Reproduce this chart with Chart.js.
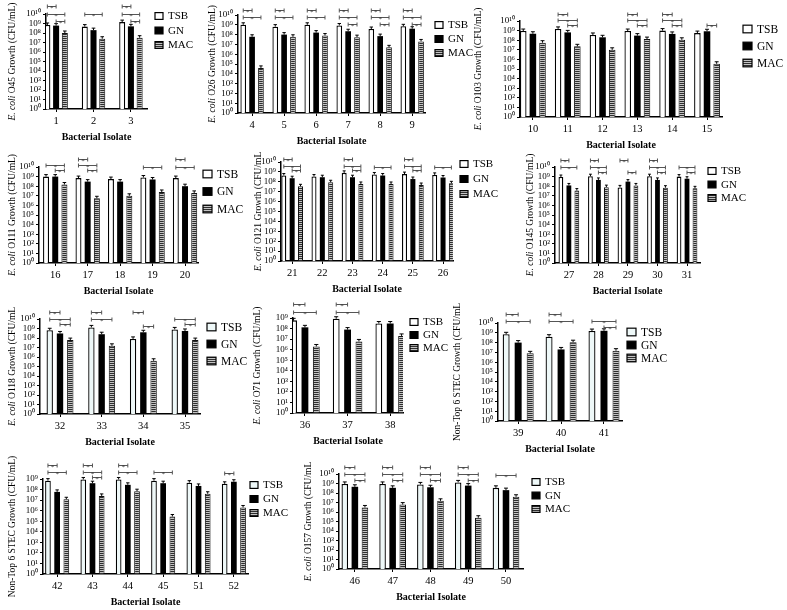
<!DOCTYPE html>
<html>
<head>
<meta charset="utf-8">
<script src="https://cdn.jsdelivr.net/npm/chart.js@4.4.0/dist/chart.umd.min.js"></script>
<style>
  body { margin: 0; background: #fff; }
  #page { position: relative; width: 787px; height: 610px; overflow: hidden; background: #fff; }
  #page canvas { position: absolute; }
</style>
</head>
<body>
<div id="page"></div>
<script>
// ---- data (CFU/mL), series order: TSB, GN, MAC ----
// significance brackets: [isolate index, from series, to series, log10 height]
const seriesNames = ['TSB', 'GN', 'MAC'];

const o45Isolates = ['1', '2', '3'];
const o45TSB = [7e8, 4.7e8, 1.4e9];
const o45GN = [6e8, 2e8, 5e8];
const o45MAC = [1e8, 2.5e7, 3.2e7];
const o45Sig = [[0, 0, 1, 10.85], [0, 0, 2, 10.0], [0, 1, 2, 9.3], [1, 0, 2, 10.0], [2, 0, 1, 10.85], [2, 0, 2, 10.0], [2, 1, 2, 9.3]];

const o26Isolates = ['4', '5', '6', '7', '8', '9'];
const o26TSB = [1e9, 6.5e8, 1e9, 8.5e8, 3.7e8, 7e8];
const o26GN = [6e7, 1e8, 1.6e8, 2.2e8, 7e7, 4e8];
const o26MAC = [4e4, 6e7, 8e7, 5.5e7, 5e6, 2e7];
const o26Sig = [[0, 0, 1, 10.5], [0, 0, 2, 9.83], [1, 0, 1, 10.5], [1, 0, 2, 9.83], [2, 0, 1, 10.5], [2, 0, 2, 9.83],
  [3, 0, 1, 10.5], [3, 0, 2, 9.83], [3, 1, 2, 9.1], [4, 0, 1, 10.5], [4, 0, 2, 9.83], [4, 1, 2, 9.1],
  [5, 0, 1, 10.5], [5, 0, 2, 9.83], [5, 1, 2, 9.1]];

const o103Isolates = ['10', '11', '12', '13', '14', '15'];
const o103TSB = [9e8, 1.5e9, 3.5e8, 9e8, 1e9, 5.5e8];
const o103GN = [4.7e8, 6.5e8, 2e8, 3e8, 4.5e8, 8.5e8];
const o103MAC = [5.5e7, 2.3e7, 1e7, 1.3e8, 1.1e8, 3.5e5];
const o103Sig = [[1, 0, 1, 10.73], [1, 0, 2, 10.1], [1, 1, 2, 9.6], [3, 0, 1, 10.73], [3, 0, 2, 10.1], [3, 1, 2, 9.6],
  [4, 0, 1, 10.73], [4, 0, 2, 10.1], [4, 1, 2, 9.6], [5, 1, 2, 9.6]];

const o111Isolates = ['16', '17', '18', '19', '20'];
const o111TSB = [1e9, 7e8, 5.5e8, 8e8, 7e8];
const o111GN = [1e9, 3e8, 3e8, 5e8, 1e8];
const o111MAC = [1.5e8, 5.5e6, 1e7, 2.5e7, 2e7];
const o111Sig = [[0, 0, 2, 10.2], [0, 1, 2, 9.7], [1, 0, 1, 10.83], [1, 0, 2, 10.2], [1, 1, 2, 9.7],
  [3, 0, 2, 10.0], [4, 0, 1, 10.83], [4, 0, 2, 10.0]];

const o121Isolates = ['21', '22', '23', '24', '25', '26'];
const o121TSB = [4.3e8, 3.4e8, 8e8, 5.5e8, 6e8, 5e8];
const o121GN = [2.3e8, 2.9e8, 2.9e8, 4.3e8, 1.9e8, 2.7e8];
const o121MAC = [3.5e7, 9e7, 6e7, 6e7, 4.7e7, 7e7];
const o121Sig = [[0, 0, 1, 10.35], [0, 0, 2, 9.6], [0, 1, 2, 9.15], [2, 0, 1, 10.35], [2, 0, 2, 9.6], [2, 1, 2, 9.15],
  [3, 0, 2, 9.5], [4, 0, 1, 10.35], [4, 0, 2, 9.6], [4, 1, 2, 9.15], [5, 0, 2, 9.5]];

const o145Isolates = ['27', '28', '29', '30', '31'];
const o145TSB = [9e8, 1.1e9, 7.5e7, 1.1e9, 1e9];
const o145GN = [1.2e8, 4.5e8, 3e8, 4.5e8, 6e8];
const o145MAC = [3.5e7, 8e7, 1.2e8, 7e7, 6e7];
const o145Sig = [[0, 0, 1, 10.75], [0, 0, 2, 10.03], [1, 0, 1, 10.75], [1, 0, 2, 10.03], [1, 1, 2, 9.5],
  [2, 0, 1, 10.7], [2, 1, 2, 9.5], [3, 0, 1, 10.75], [3, 0, 2, 10.03], [3, 1, 2, 9.5], [4, 0, 2, 10.03], [4, 1, 2, 9.5]];

const o118Isolates = ['32', '33', '34', '35'];
const o118TSB = [6.5e8, 1.3e9, 8e7, 8e8];
const o118GN = [3e8, 2.5e8, 4e8, 5.5e8];
const o118MAC = [6e7, 1.5e7, 4e5, 6e7];
const o118Sig = [[0, 0, 1, 10.7], [0, 0, 2, 10.0], [0, 1, 2, 9.45], [1, 0, 1, 10.7], [1, 0, 2, 10.0],
  [2, 0, 1, 10.7], [2, 1, 2, 9.3], [3, 0, 2, 10.0], [3, 1, 2, 9.45]];

const o71Isolates = ['36', '37', '38'];
const o71TSB = [6e8, 8.5e8, 3e8];
const o71GN = [1.3e8, 8e7, 3e8];
const o71MAC = [2e6, 6e6, 2e7];
const o71Sig = [[0, 0, 1, 10.3], [0, 0, 2, 9.53], [1, 0, 1, 10.3], [1, 0, 2, 9.53]];

const nonTopAIsolates = ['39', '40', '41'];
const nonTopATSB = [7e8, 4e8, 1.5e9];
const nonTopAGN = [1e8, 2e7, 1.6e9];
const nonTopAMAC = [8e6, 1.1e8, 1.5e7];
const nonTopASig = [[0, 0, 1, 10.92], [0, 0, 2, 10.2], [1, 0, 1, 10.92], [1, 0, 2, 10.2], [2, 0, 2, 10.2], [2, 1, 2, 9.62]];

const nonTopBIsolates = ['42', '43', '44', '45', '51', '52'];
const nonTopBTSB = [7e8, 9e8, 9e8, 7e8, 4.5e8, 3.5e8];
const nonTopBGN = [6e7, 4e8, 2.8e8, 4e8, 2.2e8, 5.5e8];
const nonTopBMAC = [1.2e7, 2.5e7, 7e7, 2.8e5, 4e7, 2e6];
const nonTopBSig = [[0, 0, 1, 10.32], [0, 0, 2, 9.63], [1, 0, 1, 10.32], [1, 0, 2, 9.63], [1, 1, 2, 9.19],
  [2, 0, 1, 10.32], [2, 0, 2, 9.63], [3, 0, 2, 9.63], [5, 0, 1, 9.53]];

const o157Isolates = ['46', '47', '48', '49', '50'];
const o157TSB = [9e8, 9e8, 8e8, 1.3e9, 3.5e8];
const o157GN = [4.5e8, 3.5e8, 4e8, 6e8, 2e8];
const o157MAC = [3e6, 6e6, 1.5e7, 2.5e5, 4e7];
const o157Sig = [[0, 0, 1, 10.7], [0, 0, 2, 10.0], [0, 1, 2, 9.33], [1, 0, 1, 10.7], [1, 0, 2, 10.0], [1, 1, 2, 9.33],
  [2, 0, 1, 10.7], [2, 0, 2, 10.0], [2, 1, 2, 9.33], [3, 0, 1, 10.7], [3, 0, 2, 10.0], [3, 1, 2, 9.33], [4, 0, 2, 9.9]];

// ---- panel layout (page pixels) ----
// area: [left, top, right, bottom] of the plot; legend: [boxX, firstRowY, rowStep, boxSize, fontSize]
const panels = [
  { isolates: o45Isolates, tsb: o45TSB, gn: o45GN, mac: o45MAC, sig: o45Sig, yMax: 1e10,
    area: [46, 14, 147, 109], pad: [0.27, 0.43], cat: 0.7, bar: 0.69, legend: [155, 16, 14.5, 8, 11],
    titleX: 12, title: ' O45 Growth (CFU/mL)', italic: 'E. coli', tsbFill: '#ffffff' },
  { isolates: o26Isolates, tsb: o26TSB, gn: o26GN, mac: o26MAC, sig: o26Sig, yMax: 1e10,
    area: [238, 15, 425, 113], pad: [0.44, 0.4], cat: 0.83, bar: 0.64, legend: [435, 25, 14, 8, 11],
    titleX: 212, title: ' O26 Growth (CFU/mL)', italic: 'E. coli', tsbFill: '#ffffff' },
  { isolates: o103Isolates, tsb: o103TSB, gn: o103GN, mac: o103MAC, sig: o103Sig, yMax: 1e10,
    area: [520, 21, 722, 117], pad: [0.37, 0.43], cat: 0.83, bar: 0.68, legend: [743, 29, 17, 9, 11.5],
    titleX: 478, title: ' O103 Growth (CFU/mL)', italic: 'E. coli', tsbFill: '#ffffff' },
  { isolates: o111Isolates, tsb: o111TSB, gn: o111GN, mac: o111MAC, sig: o111Sig, yMax: 1e10,
    area: [39, 167, 198, 263], pad: [0.5, 0.4], cat: 0.85, bar: 0.65, legend: [203, 174, 17.5, 9, 11.5],
    titleX: 12, title: ' O111 Growth (CFU/mL)', italic: 'E. coli', tsbFill: '#ffffff' },
  { isolates: o121Isolates, tsb: o121TSB, gn: o121GN, mac: o121MAC, sig: o121Sig, yMax: 1e10,
    area: [281, 162, 453, 261], pad: [0.37, 0.33], cat: 0.83, bar: 0.6, legend: [460, 164, 15, 8, 11],
    titleX: 258, title: ' O121 Growth (CFU/mL', italic: 'E. coli', tsbFill: '#ffffff' },
  { isolates: o145Isolates, tsb: o145TSB, gn: o145GN, mac: o145MAC, sig: o145Sig, yMax: 1e10,
    area: [555, 167, 700, 263], pad: [0.47, 0.44], cat: 0.81, bar: 0.6, legend: [708, 171, 13.5, 8, 11],
    titleX: 530, title: ' O145 Growth (CFU/mL)', italic: 'E. coli', tsbFill: '#ffffff' },
  { isolates: o118Isolates, tsb: o118TSB, gn: o118GN, mac: o118MAC, sig: o118Sig, yMax: 1e10,
    area: [40, 319, 200, 414], pad: [0.48, 0.36], cat: 0.74, bar: 0.62, legend: [207, 327, 17, 9, 11.5],
    titleX: 12, title: ' O118 Growth (CFU/mL', italic: 'E. coli', tsbFill: '#eef8f8' },
  { isolates: o71Isolates, tsb: o71TSB, gn: o71GN, mac: o71MAC, sig: o71Sig, yMax: 1e9,
    area: [293, 318, 403, 413], pad: [0.28, 0.3], cat: 0.8, bar: 0.6, legend: [410, 322, 13, 8, 11],
    titleX: 257, title: ' O71 Growth (CFU/mL)', italic: 'E. coli', tsbFill: '#ffffff' },
  { isolates: nonTopAIsolates, tsb: nonTopATSB, gn: nonTopAGN, mac: nonTopAMAC, sig: nonTopASig, yMax: 1e10,
    area: [498, 323, 622, 421], pad: [0.47, 0.42], cat: 0.84, bar: 0.58, legend: [627, 332, 13, 9, 11.5],
    titleX: 457, title: 'Non-Top 6 STEC Growth (CFU/mL', italic: '', tsbFill: '#eef8f8' },
  { isolates: nonTopBIsolates, tsb: nonTopBTSB, gn: nonTopBGN, mac: nonTopBMAC, sig: nonTopBSig, yMax: 1e9,
    area: [43, 479, 248, 574], pad: [0.4, 0.4], cat: 0.78, bar: 0.62, legend: [250, 485, 14, 8, 11],
    titleX: 12, title: 'Non-Top 6 STEC Growth (CFU/mL)', italic: '', tsbFill: '#eef8f8' },
  { isolates: o157Isolates, tsb: o157TSB, gn: o157GN, mac: o157MAC, sig: o157Sig, yMax: 1e10,
    area: [339, 474, 523, 569], pad: [0.42, 0.45], cat: 0.8, bar: 0.65, legend: [532, 482, 13.5, 8, 11],
    titleX: 308, title: ' O157 Growth (CFU/mL', italic: 'E. coli', tsbFill: '#eef8f8' }
];

const FONT = "'Liberation Serif', 'Times New Roman', serif";
const LEFT_SPACE = 50, TOP_SPACE = 30, RIGHT_SPACE = 90, BOTTOM_SPACE = 40;
const SUP = { '0': '⁰', '1': '¹', '2': '²', '3': '³', '4': '⁴', '5': '⁵', '6': '⁶', '7': '⁷', '8': '⁸', '9': '⁹' };

function decadeLabel(value) {
  const e = Math.round(Math.log10(value));
  return '10' + String(e).split('').map(c => SUP[c]).join('');
}

// horizontal stripes used for the MAC bars
function makeStripes(ctx) {
  const c = document.createElement('canvas');
  c.width = 4; c.height = 2;
  const p = c.getContext('2d');
  p.fillStyle = '#c4c4c4'; p.fillRect(0, 0, 4, 2);
  p.fillStyle = '#2e2e2e'; p.fillRect(0, 0, 4, 1);
  return ctx.createPattern(c, 'repeat');
}

// error caps, brackets, legend and axis titles
function makeDecor(panel, x0, y0, fills) {
  return {
    id: 'panelDecor',
    afterDatasetsDraw(chart) {
      const ctx = chart.ctx;
      const yScale = chart.scales.y;
      ctx.save();
      ctx.strokeStyle = '#000';
      ctx.lineWidth = 1;
      chart.data.datasets.forEach((ds, di) => {
        chart.getDatasetMeta(di).data.forEach(bar => {
          const half = bar.width * 0.3;
          ctx.beginPath();
          ctx.moveTo(bar.x, bar.y);
          ctx.lineTo(bar.x, bar.y - 2);
          ctx.moveTo(bar.x - half, bar.y - 2);
          ctx.lineTo(bar.x + half, bar.y - 2);
          ctx.stroke();
        });
      });

      ctx.strokeStyle = '#555';
      ctx.fillStyle = '#333';
      ctx.font = '7px ' + FONT;
      ctx.textAlign = 'center';
      ctx.textBaseline = 'alphabetic';
      panel.sig.forEach(([i, a, b, lvl]) => {
        const x1 = chart.getDatasetMeta(a).data[i].x;
        const x2 = chart.getDatasetMeta(b).data[i].x;
        const y = Math.round(yScale.getPixelForValue(Math.pow(10, lvl))) + 0.5;
        ctx.beginPath();
        ctx.moveTo(x1, y); ctx.lineTo(x2, y);
        ctx.moveTo(x1, y - 2); ctx.lineTo(x1, y + 2);
        ctx.moveTo(x2, y - 2); ctx.lineTo(x2, y + 2);
        ctx.stroke();
        ctx.fillText('*', (x1 + x2) / 2, y + 3);
      });
      ctx.restore();
    },
    afterDraw(chart) {
      const ctx = chart.ctx;
      const area = chart.chartArea;
      const [bx, by, step, size, fs] = panel.legend;
      ctx.save();
      // legend
      ctx.font = fs + 'px ' + FONT;
      ctx.textBaseline = 'middle';
      ctx.textAlign = 'left';
      seriesNames.forEach((name, k) => {
        const cy = by + k * step - y0;
        const h = size * 0.85;
        ctx.fillStyle = fills[k];
        ctx.fillRect(bx - x0, cy - h / 2, size, h);
        ctx.strokeStyle = '#000';
        ctx.lineWidth = 1.2;
        ctx.strokeRect(bx - x0, cy - h / 2, size, h);
        ctx.fillStyle = '#000';
        ctx.fillText(name, bx - x0 + size + 5, cy + 0.5);
      });

      // y-axis title, italic genus part followed by plain text
      ctx.translate(panel.titleX - x0, (area.top + area.bottom) / 2);
      ctx.rotate(-Math.PI / 2);
      const italicFont = 'italic 9.5px ' + FONT;
      const plainFont = '9.5px ' + FONT;
      ctx.font = italicFont;
      const w1 = panel.italic ? ctx.measureText(panel.italic).width : 0;
      ctx.font = plainFont;
      const w2 = ctx.measureText(panel.title).width;
      let sx = -(w1 + w2) / 2;
      ctx.textAlign = 'left';
      if (panel.italic) {
        ctx.font = italicFont;
        ctx.fillText(panel.italic, sx, 0);
        sx += w1;
      }
      ctx.font = plainFont;
      ctx.fillText(panel.title, sx, 0);
      ctx.restore();

      // x-axis title
      ctx.save();
      ctx.font = 'bold 10px ' + FONT;
      ctx.fillStyle = '#000';
      ctx.textAlign = 'center';
      ctx.textBaseline = 'middle';
      ctx.fillText('Bacterial Isolate', (area.left + area.right) / 2, area.bottom + 28);
      ctx.restore();
    }
  };
}

function buildPanel(panel) {
  const [l, t, r, b] = panel.area;
  const x0 = l - LEFT_SPACE, y0 = t - TOP_SPACE;
  const canvas = document.createElement('canvas');
  canvas.width = r - l + LEFT_SPACE + RIGHT_SPACE;
  canvas.height = b - t + TOP_SPACE + BOTTOM_SPACE;
  canvas.style.left = x0 + 'px';
  canvas.style.top = y0 + 'px';
  document.getElementById('page').appendChild(canvas);

  const ctx = canvas.getContext('2d');
  const stripes = makeStripes(ctx);
  const fills = [panel.tsbFill, '#000000', stripes];
  const n = panel.isolates.length;
  const toPoints = values => values.map((v, i) => ({ x: i, y: v }));
  const decades = [];
  for (let v = 1; v <= panel.yMax; v *= 10) decades.push(v);

  const common = { categoryPercentage: panel.cat, barPercentage: panel.bar, borderSkipped: 'start' };

  new Chart(ctx, {
    type: 'bar',
    data: {
      datasets: [
        { label: 'TSB', data: toPoints(panel.tsb), backgroundColor: panel.tsbFill, borderColor: '#000', borderWidth: 1.3, ...common },
        { label: 'GN', data: toPoints(panel.gn), backgroundColor: '#000', borderColor: '#000', borderWidth: 0, ...common },
        { label: 'MAC', data: toPoints(panel.mac), backgroundColor: stripes, borderColor: '#111', borderWidth: 1, ...common }
      ]
    },
    options: {
      responsive: false,
      animation: false,
      events: [],
      layout: { padding: { left: 0, top: TOP_SPACE, right: RIGHT_SPACE, bottom: 0 } },
      plugins: { legend: { display: false }, tooltip: { enabled: false } },
      scales: {
        x: {
          type: 'linear',
          offset: false,
          min: -panel.pad[0],
          max: n - 1 + panel.pad[1],
          afterBuildTicks: scale => { scale.ticks = panel.isolates.map((_, i) => ({ value: i })); },
          afterFit: scale => { scale.height = BOTTOM_SPACE; },
          ticks: {
            autoSkip: false,
            maxRotation: 0,
            padding: 3,
            color: '#000',
            font: { family: FONT, size: 10.5 },
            callback: value => panel.isolates[value]
          },
          grid: { display: true, offset: false, drawOnChartArea: false, tickLength: 3, color: '#000', lineWidth: 1 },
          border: { display: true, color: '#000', width: 1.5 }
        },
        y: {
          type: 'logarithmic',
          min: 1,
          max: panel.yMax,
          afterBuildTicks: scale => { scale.ticks = decades.map(v => ({ value: v })); },
          afterFit: scale => { scale.width = LEFT_SPACE; },
          ticks: {
            autoSkip: false,
            padding: 2,
            color: '#000',
            font: { family: FONT, size: 9 },
            callback: value => decadeLabel(value)
          },
          grid: { display: true, drawOnChartArea: false, tickLength: 3, color: '#000', lineWidth: 1 },
          border: { display: true, color: '#000', width: 1.5 }
        }
      }
    },
    plugins: [makeDecor(panel, x0, y0, fills)]
  });
}

panels.forEach(buildPanel);
</script>
</body>
</html>
